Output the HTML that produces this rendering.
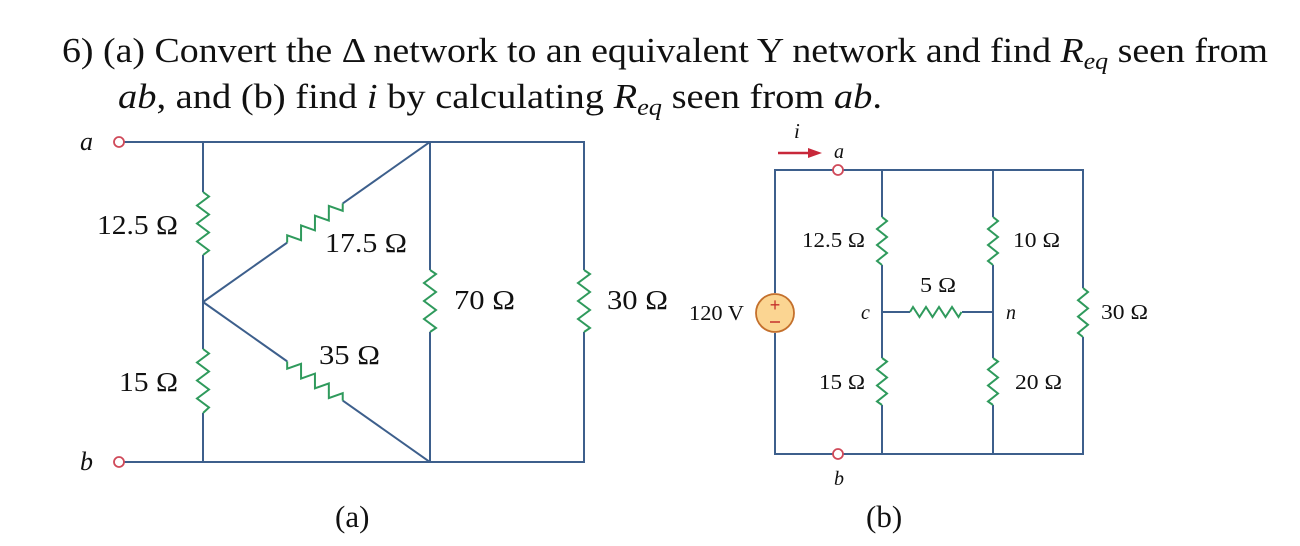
<!DOCTYPE html>
<html><head><meta charset="utf-8"><style>
body{margin:0;background:#fff;}
svg{display:block;}
.t{font-family:"Liberation Serif",serif;fill:#111;}
.w{stroke:#3d5f8c;stroke-width:2;fill:none;}
.r{stroke:#2f9a5c;stroke-width:2;fill:none;stroke-linejoin:miter;}
</style></head><body>
<svg width="1300" height="546" viewBox="0 0 1300 546" xmlns="http://www.w3.org/2000/svg">
<text class="t" x="62" y="62" font-size="35" textLength="1206" lengthAdjust="spacingAndGlyphs">6)  (a) Convert the Δ network to an equivalent Y network and find <tspan font-style="italic">R<tspan font-size="24" dy="7">eq</tspan></tspan><tspan dy="-7"> seen from</tspan></text>
<text class="t" x="118" y="108" font-size="35" textLength="764" lengthAdjust="spacingAndGlyphs"><tspan font-style="italic">ab</tspan>, and (b) find <tspan font-style="italic">i</tspan> by calculating <tspan font-style="italic">R<tspan font-size="24" dy="7">eq</tspan></tspan><tspan dy="-7"> seen from </tspan><tspan font-style="italic">ab</tspan>.</text>

<!-- ===== Circuit (a) ===== -->
<path class="w" d="M124,142 H584 V270 M584,332 V462 H124"/>
<path class="w" d="M203,142 V192 M203,255 V349 M203,413 V462"/>
<path class="w" d="M430,142 V270 M430,332 V462"/>
<path class="r" d="M203,192 l6,4.5 l-12,9 l12,9 l-12,9 l12,9 l-12,9 l12,9 l-6,4.5"/>
<path class="r" d="M203,349 l6,4.5 l-12,9 l12,9 l-12,9 l12,9 l-12,9 l12,9 l-6,5.5"/>
<path class="r" d="M430,270 l6,4 l-12,9 l12,9 l-12,9 l12,9 l-12,9 l12,9 l-6,4"/>
<path class="r" d="M584,270 l6,4 l-12,9 l12,9 l-12,9 l12,9 l-12,9 l12,9 l-6,4"/>
<g transform="translate(203,302) rotate(-35.2)">
<path class="w" d="M0,0 H103 M171,0 H277.7"/>
<path class="r" d="M103,0 l4.25,-6 l8.5,12 l8.5,-12 l8.5,12 l8.5,-12 l8.5,12 l8.5,-12 l8.5,12 l4.25,-6"/>
</g>
<g transform="translate(203,302) rotate(35.2)">
<path class="w" d="M0,0 H103 M171,0 H277.7"/>
<path class="r" d="M103,0 l4.25,6 l8.5,-12 l8.5,12 l8.5,-12 l8.5,12 l8.5,-12 l8.5,12 l8.5,-12 l4.25,6"/>
</g>
<circle cx="119" cy="142" r="5" fill="#fff" stroke="#d04a5a" stroke-width="1.8"/>
<circle cx="119" cy="462" r="5" fill="#fff" stroke="#d04a5a" stroke-width="1.8"/>
<text class="t" x="80" y="150" font-size="26" font-style="italic">a</text>
<text class="t" x="80" y="470" font-size="26" font-style="italic">b</text>
<text class="t" x="97" y="234" font-size="27" textLength="81" lengthAdjust="spacingAndGlyphs">12.5 Ω</text>
<text class="t" x="325" y="252" font-size="27" textLength="82" lengthAdjust="spacingAndGlyphs">17.5 Ω</text>
<text class="t" x="454" y="309" font-size="27" textLength="61" lengthAdjust="spacingAndGlyphs">70 Ω</text>
<text class="t" x="607" y="309" font-size="27" textLength="61" lengthAdjust="spacingAndGlyphs">30 Ω</text>
<text class="t" x="319" y="364" font-size="27" textLength="61" lengthAdjust="spacingAndGlyphs">35 Ω</text>
<text class="t" x="119" y="391" font-size="27" textLength="59" lengthAdjust="spacingAndGlyphs">15 Ω</text>
<text class="t" x="335" y="527" font-size="31">(a)</text>

<!-- ===== Circuit (b) ===== -->
<path class="w" d="M775,293 V170 H833 M843,170 H1083 V288 M1083,337 V454 H843 M833,454 H775 V333"/>
<path class="w" d="M882,170 V217 M882,265 V358 M882,405 V454"/>
<path class="w" d="M993,170 V217 M993,265 V358 M993,405 V454"/>
<path class="w" d="M882,312 H910 M962,312 H993"/>
<path class="r" d="M882,217 l5,4 l-10,8 l10,8 l-10,8 l10,8 l-10,8 l5,4"/>
<path class="r" d="M993,217 l5,4 l-10,8 l10,8 l-10,8 l10,8 l-10,8 l5,4"/>
<path class="r" d="M882,358 l5,3.5 l-10,8 l10,8 l-10,8 l10,8 l-10,8 l5,3.5"/>
<path class="r" d="M993,358 l5,3.5 l-10,8 l10,8 l-10,8 l10,8 l-10,8 l5,3.5"/>
<path class="r" d="M1083,288 l5,4 l-10,8.2 l10,8.2 l-10,8.2 l10,8.2 l-10,8.2 l5,4"/>
<path class="r" d="M910,312 l3,-5 l6.5,10 l6.5,-10 l6.5,10 l6.5,-10 l6.5,10 l6.5,-10 l6.5,10 l3,-5"/>
<circle cx="775" cy="313" r="19" fill="#fbd592" stroke="#c4702c" stroke-width="1.8"/>
<text x="775" y="311" font-size="18" text-anchor="middle" fill="#c4302c" font-family="Liberation Sans,sans-serif">+</text>
<path d="M770,322 H780" stroke="#c4302c" stroke-width="1.5"/>
<circle cx="838" cy="170" r="5" fill="#fff" stroke="#d04a5a" stroke-width="1.8"/>
<circle cx="838" cy="454" r="5" fill="#fff" stroke="#d04a5a" stroke-width="1.8"/>
<path d="M778,153 H810" stroke="#c8283a" stroke-width="2.5"/>
<path d="M808,148 L822,153 L808,158 Z" fill="#c8283a"/>
<text class="t" x="794" y="138" font-size="21" font-style="italic">i</text>
<text class="t" x="834" y="158" font-size="20" font-style="italic">a</text>
<text class="t" x="834" y="485" font-size="20" font-style="italic">b</text>
<text class="t" x="802" y="247" font-size="21" textLength="63" lengthAdjust="spacingAndGlyphs">12.5 Ω</text>
<text class="t" x="1013" y="247" font-size="21" textLength="47" lengthAdjust="spacingAndGlyphs">10 Ω</text>
<text class="t" x="920" y="292" font-size="21" textLength="36" lengthAdjust="spacingAndGlyphs">5 Ω</text>
<text class="t" x="861" y="319" font-size="20" font-style="italic">c</text>
<text class="t" x="1006" y="319" font-size="20" font-style="italic">n</text>
<text class="t" x="1101" y="319" font-size="21" textLength="47" lengthAdjust="spacingAndGlyphs">30 Ω</text>
<text class="t" x="689" y="320" font-size="21" textLength="55" lengthAdjust="spacingAndGlyphs">120 V</text>
<text class="t" x="819" y="389" font-size="21" textLength="46" lengthAdjust="spacingAndGlyphs">15 Ω</text>
<text class="t" x="1015" y="389" font-size="21" textLength="47" lengthAdjust="spacingAndGlyphs">20 Ω</text>
<text class="t" x="866" y="527" font-size="31">(b)</text>
</svg>
</body></html>
